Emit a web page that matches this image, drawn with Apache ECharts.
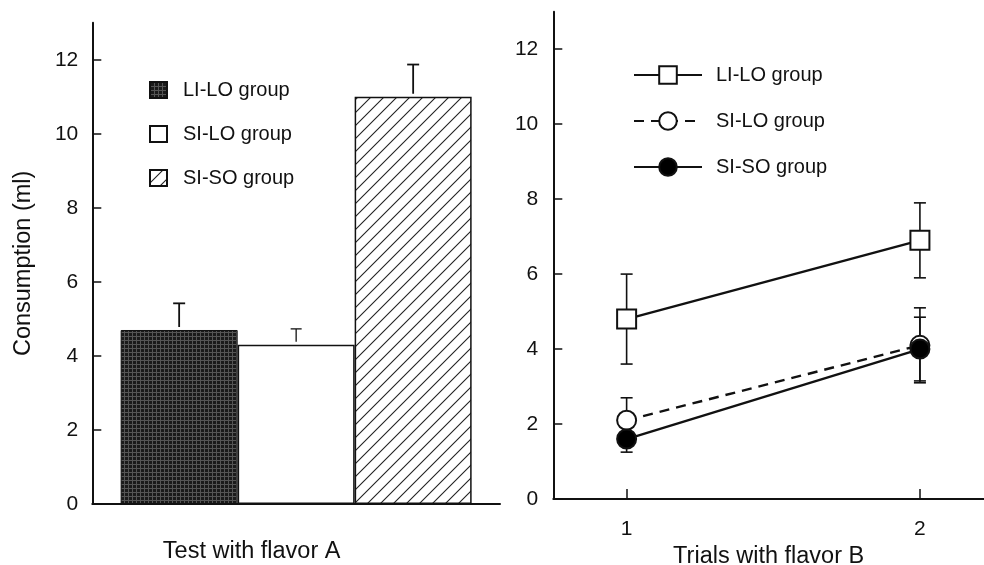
<!DOCTYPE html>
<html>
<head>
<meta charset="utf-8">
<script src="https://cdn.jsdelivr.net/npm/echarts@6/dist/echarts.min.js"></script>
<style>
html,body{margin:0;padding:0;background:#fff;}
#chart{width:984px;height:565px;}
</style>
</head>
<body>
<div id="chart"></div>
<script>
// ---------- data ----------
const groups = ['LI-LO group', 'SI-LO group', 'SI-SO group'];
const barCategory = ['Test with flavor A'];
const barValues = [4.7, 4.3, 11.0];
const barErrors = [0.72, 0.43, 0.87];

const trials = [1, 2];
const liloMeans = [4.8, 6.9];
const liloErr = [1.2, 1.0];
const siloMeans = [2.1, 4.1];
const siloErr = [0.6, 1.0];
const sisoMeans = [1.6, 4.0];
const sisoErr = [0.35, 0.85];

const yTicks = [0, 2, 4, 6, 8, 10, 12];
const xTicks = [1, 2];

// ---------- styles ----------
const FONT = 'Liberation Sans, Arial, Helvetica, sans-serif';
const INK = '#111';
const BAR_W = 117;
const CAP = 12;
const B_PREFIX = 'Trials: ';

function makeDotPattern() {
  const c = document.createElement('canvas');
  c.width = 4; c.height = 4;
  const g = c.getContext('2d');
  g.fillStyle = '#1a1a1a'; g.fillRect(0, 0, 4, 4);
  g.fillStyle = '#555';
  g.fillRect(0, 0, 4, 1);
  g.fillRect(0, 0, 1, 4);
  return c;
}
function makeHatchPattern() {
  const s = 13;
  const c = document.createElement('canvas');
  c.width = s; c.height = s;
  const g = c.getContext('2d');
  g.fillStyle = '#fff'; g.fillRect(0, 0, s, s);
  g.strokeStyle = '#222'; g.lineWidth = 1.1;
  g.beginPath();
  g.moveTo(-1, s + 1); g.lineTo(s + 1, -1);
  g.moveTo(-2, 2); g.lineTo(2, -2);
  g.moveTo(s - 2, s + 2); g.lineTo(s + 2, s - 2);
  g.stroke();
  return c;
}
const barFills = [
  { image: makeDotPattern(), repeat: 'repeat' },
  '#ffffff',
  { image: makeHatchPattern(), repeat: 'repeat' }
];

const chart = echarts.init(document.getElementById('chart'), null, { renderer: 'canvas' });

const axisLineStyle = { color: INK, width: 2 };
const tickLabel = { color: INK, fontSize: 21, fontFamily: FONT };

const barSeries = groups.map((name, i) => ({
  name,
  type: 'bar',
  xAxisIndex: 0, yAxisIndex: 0,
  barWidth: BAR_W,
  barGap: '0%',
  data: [barValues[i]],
  itemStyle: { color: barFills[i], borderColor: INK, borderWidth: i === 0 ? 1 : 1.5 },
  emphasis: { disabled: true },
  z: 2
}));

const barErrData = barValues.map((v, i) => [0, v, barErrors[i], i]);

const lineDefs = [
  { name: groups[0], means: liloMeans, errs: liloErr, symbol: 'rect', fill: '#fff', dash: 'solid' },
  { name: groups[1], means: siloMeans, errs: siloErr, symbol: 'circle', fill: '#fff', dash: [10, 7] },
  { name: groups[2], means: sisoMeans, errs: sisoErr, symbol: 'circle', fill: '#000', dash: 'solid' }
];

const lineSeries = lineDefs.map((d) => ({
  name: B_PREFIX + d.name,
  type: 'line',
  xAxisIndex: 1, yAxisIndex: 1,
  data: trials.map((t, j) => [t, d.means[j]]),
  symbol: d.symbol,
  symbolSize: 19,
  showSymbol: true,
  lineStyle: { color: INK, width: 2.4, type: d.dash },
  itemStyle: { color: d.fill, borderColor: INK, borderWidth: 2 },
  emphasis: { disabled: true },
  z: 3
}));

const lineErrData = [];
lineDefs.forEach((d) => {
  trials.forEach((t, j) => lineErrData.push([t, d.means[j], d.errs[j]]));
});

const option = {
  backgroundColor: '#fff',
  animation: false,
  textStyle: { fontFamily: FONT, color: INK },
  grid: [
    { left: 92.3, top: 22.7, right: 484, bottom: 61, containLabel: false, outerBoundsMode: 'none' },
    { left: 553.3, top: 11.7, right: 0, bottom: 66, containLabel: false, outerBoundsMode: 'none' }
  ],
  legend: [
    {
      data: groups,
      orient: 'vertical',
      left: 144, top: 75,
      icon: 'rect',
      itemWidth: 17, itemHeight: 16,
      itemGap: 24,
      selectedMode: false,
      textStyle: { fontSize: 20, color: INK, fontFamily: FONT, padding: [0, 0, 0, 11], lineHeight: 20 }
    },
    {
      data: groups.map((g) => B_PREFIX + g),
      formatter: (name) => name.replace(B_PREFIX, ''),
      orient: 'vertical',
      left: 628, top: 59,
      itemWidth: 68, itemHeight: 22,
      itemGap: 24,
      selectedMode: false,
      textStyle: { fontSize: 20, color: INK, fontFamily: FONT, padding: [0, 0, 0, 9], lineHeight: 22 }
    }
  ],
  xAxis: [
    {
      gridIndex: 0,
      type: 'category',
      data: barCategory,
      axisLine: { lineStyle: axisLineStyle },
      axisTick: { show: false },
      axisLabel: { show: false },
      splitLine: { show: false },
      name: 'Test with flavor A',
      nameLocation: 'middle',
      nameGap: 36,
      nameTextStyle: { fontSize: 23.5, color: INK, fontFamily: FONT, padding: [0, 89, 0, 0] }
    },
    {
      gridIndex: 1,
      type: 'value',
      min: 0.75, max: 2.2185,
      axisLine: { lineStyle: axisLineStyle },
      axisTick: { show: true, inside: true, length: 10, lineStyle: { color: INK, width: 1.5 }, customValues: xTicks },
      axisLabel: { ...tickLabel, margin: 20, customValues: xTicks },
      splitLine: { show: false },
      name: 'Trials with flavor B',
      nameLocation: 'middle',
      nameGap: 41,
      nameTextStyle: { fontSize: 23.5, color: INK, fontFamily: FONT }
    }
  ],
  yAxis: [
    {
      gridIndex: 0,
      type: 'value',
      min: 0, max: 13,
      axisLine: { show: true, lineStyle: axisLineStyle },
      axisTick: { show: true, inside: true, length: 9, lineStyle: { color: INK, width: 1.5 }, customValues: yTicks },
      axisLabel: { ...tickLabel, margin: 14, customValues: yTicks },
      splitLine: { show: false },
      name: 'Consumption (ml)',
      nameLocation: 'middle',
      nameGap: 57,
      nameTextStyle: { fontSize: 23.5, color: INK, fontFamily: FONT }
    },
    {
      gridIndex: 1,
      type: 'value',
      min: 0, max: 13,
      axisLine: { show: true, lineStyle: axisLineStyle },
      axisTick: { show: true, inside: true, length: 9, lineStyle: { color: INK, width: 1.5 }, customValues: yTicks },
      axisLabel: { ...tickLabel, margin: 15, customValues: yTicks },
      splitLine: { show: false }
    }
  ],
  series: [
    ...barSeries,
    {
      name: 'bar error',
      type: 'custom',
      xAxisIndex: 0, yAxisIndex: 0,
      data: barErrData,
      z: 4,
      silent: true,
      renderItem: (params, api) => {
        const idx = api.value(3);
        const base = api.coord([api.value(0), api.value(1)]);
        const top = api.coord([api.value(0), api.value(1) + api.value(2)]);
        const x = base[0] + (idx - 1) * BAR_W;
        const lw = idx === 1 ? 1.3 : 1.8;
        const cap = idx === 1 ? CAP - 1 : CAP;
        return {
          type: 'group',
          children: [
            { type: 'line', shape: { x1: x, y1: base[1] - 3, x2: x, y2: top[1] }, style: { stroke: INK, lineWidth: lw } },
            { type: 'line', shape: { x1: x - cap / 2, y1: top[1], x2: x + cap / 2, y2: top[1] }, style: { stroke: INK, lineWidth: lw } }
          ]
        };
      }
    },
    {
      name: 'line error',
      type: 'custom',
      xAxisIndex: 1, yAxisIndex: 1,
      data: lineErrData,
      z: 1,
      silent: true,
      renderItem: (params, api) => {
        const hi = api.coord([api.value(0), api.value(1) + api.value(2)]);
        const lo = api.coord([api.value(0), api.value(1) - api.value(2)]);
        const x = hi[0];
        const st = { stroke: INK, lineWidth: 1.6 };
        return {
          type: 'group',
          children: [
            { type: 'line', shape: { x1: x, y1: lo[1], x2: x, y2: hi[1] }, style: st },
            { type: 'line', shape: { x1: x - CAP / 2, y1: hi[1], x2: x + CAP / 2, y2: hi[1] }, style: st },
            { type: 'line', shape: { x1: x - CAP / 2, y1: lo[1], x2: x + CAP / 2, y2: lo[1] }, style: st }
          ]
        };
      }
    },
    ...lineSeries
  ]
};

chart.setOption(option);
</script>
</body>
</html>
